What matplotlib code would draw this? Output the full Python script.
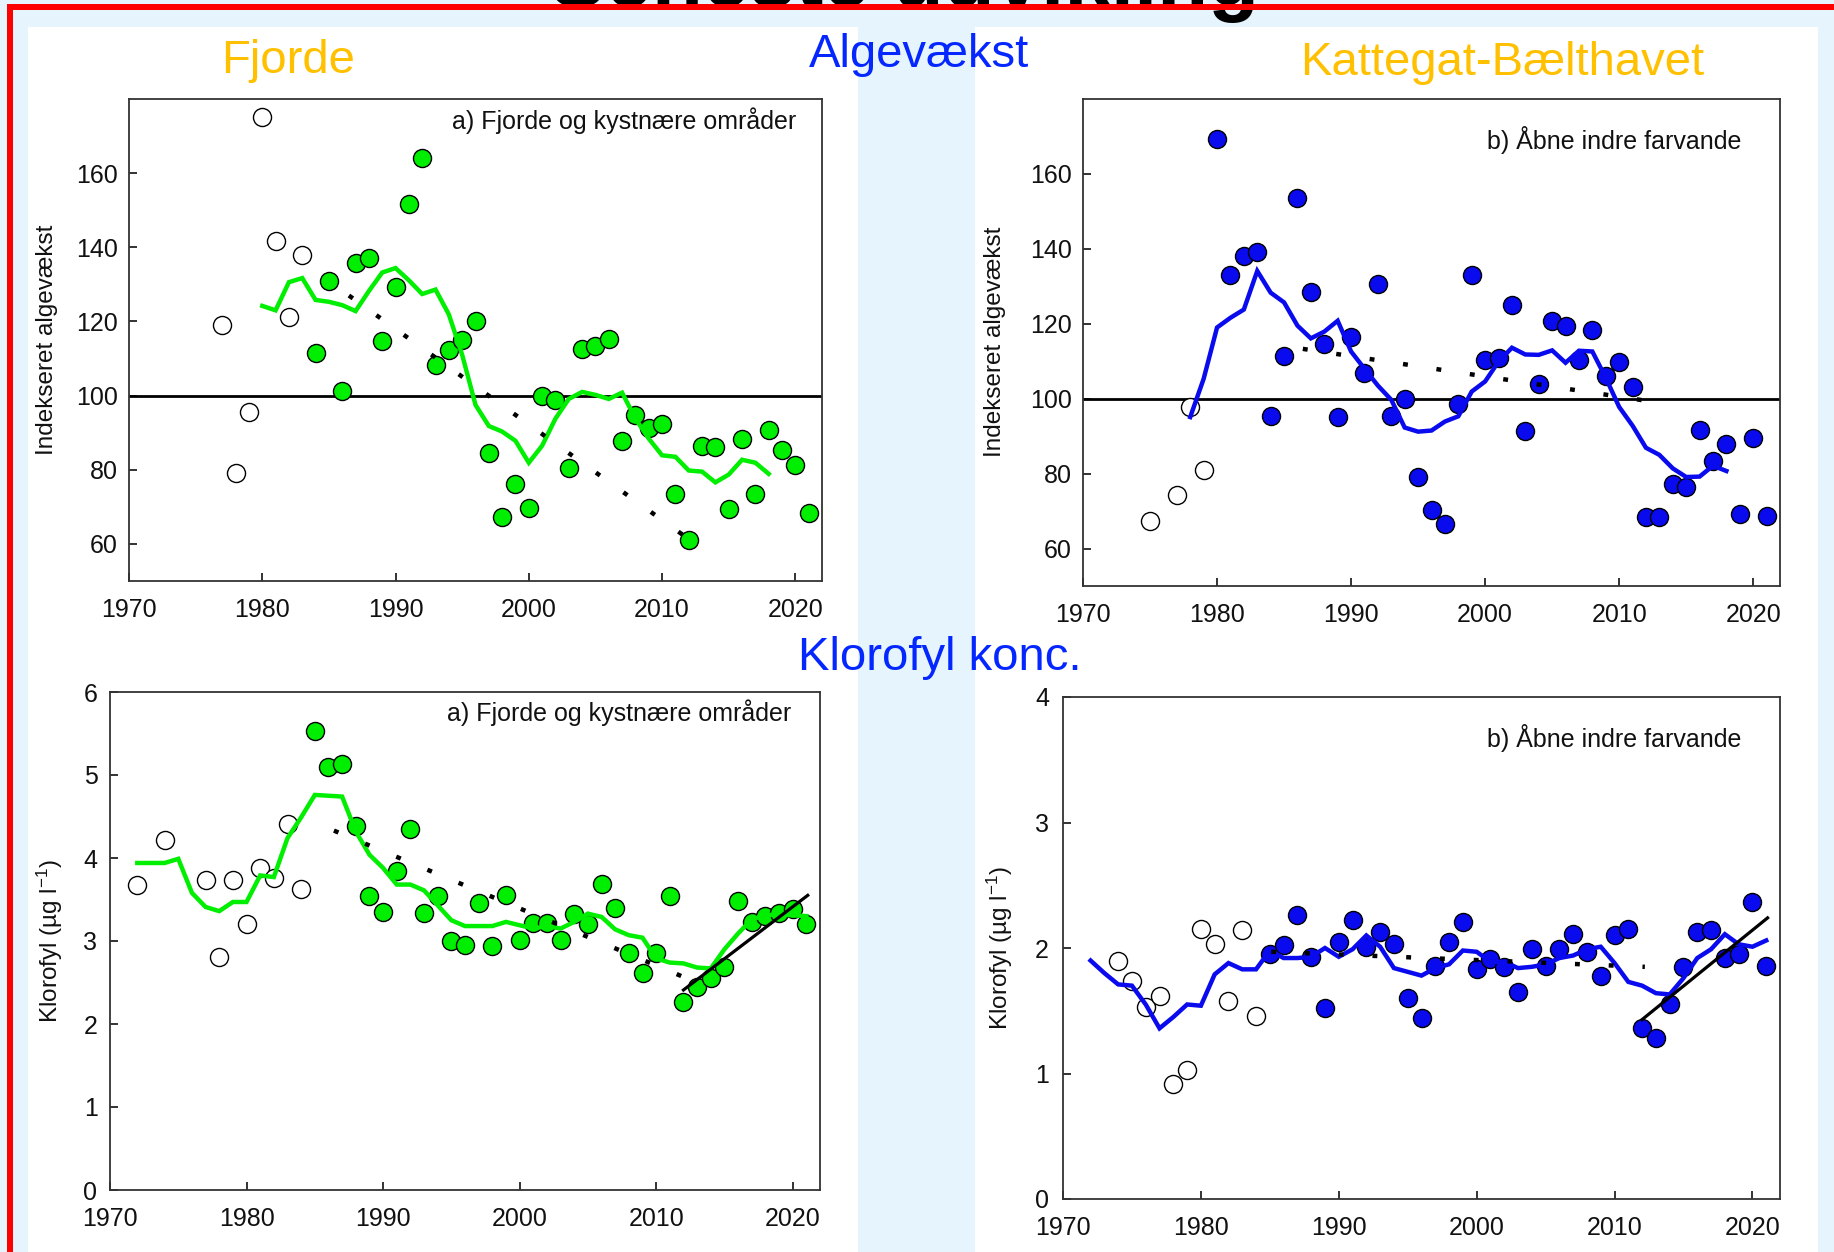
import matplotlib
matplotlib.use('Agg')
import matplotlib.pyplot as plt
from matplotlib.patches import Rectangle

plt.rcParams['font.family'] = ['Liberation Sans', 'DejaVu Sans']
plt.rcParams['mathtext.default'] = 'regular'

# ---------------- data ----------------
# Algevækst, Fjorde (a)
alg_fj_open_years = [1977, 1978, 1979, 1980, 1981, 1982, 1983]
alg_fj_open_vals = [119.0, 79.0, 95.6, 175.2, 141.8, 121.2, 137.8]
alg_fj_years = list(range(1984, 2022))
alg_fj_vals = [111.6, 130.8, 101.2, 135.9, 137.0, 114.6,
               129.4, 151.6, 164.1, 108.2, 112.3, 114.9, 120.0, 84.5, 67.3, 76.1,
               69.6, 100.0, 98.8, 80.6, 112.7, 113.4, 115.2, 87.8, 94.8, 91.3,
               92.3, 73.5, 61.0, 86.5, 86.1, 69.4, 88.2, 73.4, 90.6, 85.4, 81.2, 68.3]
alg_fj_avg_years = list(range(1980, 2019))
alg_fj_avg = [124.2, 123.0, 130.6, 131.7, 125.8, 125.3, 124.4, 122.8, 128.2, 133.2,
              134.4, 131.1, 127.4, 128.6, 121.9, 111.0, 97.5, 91.8, 90.3, 87.8,
              81.9, 86.5, 93.8, 99.1, 101.0, 100.2, 99.1, 100.8, 93.8, 88.4,
              83.9, 83.5, 79.8, 79.5, 76.6, 78.7, 82.7, 81.9, 78.9]
alg_fj_trend_years = [1986.5, 2012.0]
alg_fj_trend_vals = [127.0, 61.3]

# Algevækst, Kattegat-Bælthavet (b)
alg_kb_open_years = [1975, 1977, 1978, 1979]
alg_kb_open_vals = [67.3, 74.2, 97.7, 81.0]
alg_kb_years = list(range(1980, 2022))
alg_kb_vals = [169.2, 133.1, 138.1, 139.1, 95.3, 111.4, 153.6, 128.5, 114.7, 95.0,
               116.5, 106.8, 130.6, 95.5, 99.9, 79.0, 70.3, 66.6, 98.7, 133.1,
               110.3, 110.9, 125.1, 91.4, 103.8, 120.8, 119.5, 110.4, 118.3, 106.0,
               109.9, 103.1, 68.4, 68.4, 77.3, 76.5, 91.7, 83.4, 88.0, 69.1, 89.5, 68.8]
alg_kb_avg_years = list(range(1978, 2019))
alg_kb_avg = [95.1, 105.3,
              119.0, 121.6, 123.8, 134.1, 128.3, 125.7, 119.5, 116.1, 117.9, 120.8,
              112.6, 108.0, 103.5, 99.7, 92.3, 91.2, 91.5, 93.9, 95.3, 101.9,
              104.6, 109.9, 113.6, 111.8, 111.7, 112.9, 109.6, 112.8, 112.6, 105.6,
              97.8, 92.8, 86.9, 85.0, 81.4, 79.1, 79.2, 82.1, 80.7]
alg_kb_trend_years = [1986.4, 2012.1]
alg_kb_trend_vals = [113.3, 99.4]

# Klorofyl, Fjorde (a)
chl_fj_open_years = [1972, 1974, 1977, 1978, 1979, 1980, 1981, 1982, 1983, 1984]
chl_fj_open_vals = [3.68, 4.22, 3.73, 2.81, 3.73, 3.20, 3.88, 3.76, 4.41, 3.63]
chl_fj_years = list(range(1985, 2022))
chl_fj_vals = [5.53, 5.10, 5.13, 4.39, 3.54,
               3.35, 3.84, 4.35, 3.34, 3.54, 3.00, 2.95, 3.46, 2.94, 3.55,
               3.01, 3.22, 3.22, 3.01, 3.32, 3.20, 3.69, 3.40, 2.86, 2.62,
               2.86, 3.54, 2.27, 2.45, 2.55, 2.69, 3.48, 3.23, 3.30, 3.34, 3.38, 3.20]
chl_fj_avg_years = list(range(1972, 2022))
chl_fj_avg = [3.94, 3.94, 3.94, 3.99, 3.58, 3.41, 3.36, 3.47,
              3.47, 3.79, 3.77, 4.24, 4.49, 4.76, 4.75, 4.74, 4.32, 4.04,
              3.88, 3.68, 3.68, 3.61, 3.43, 3.25, 3.18, 3.18, 3.18, 3.23,
              3.19, 3.15, 3.18, 3.15, 3.23, 3.33, 3.29, 3.14, 3.07, 3.04,
              2.79, 2.74, 2.73, 2.68, 2.67, 2.90, 3.09, 3.26, 3.31, 3.32, 3.31, 3.30]
chl_fj_trend1_years = [1986.4, 2012.1]
chl_fj_trend1_vals = [4.33, 2.56]
chl_fj_trend2_years = [2012.0, 2021.1]
chl_fj_trend2_vals = [2.41, 3.55]

# Klorofyl, Kattegat-Bælthavet (b)
chl_kb_open_years = list(range(1974, 1985))
chl_kb_open_vals = [1.90, 1.74, 1.53, 1.62, 0.92, 1.03, 2.15, 2.03, 1.58, 2.14, 1.46]
chl_kb_years = list(range(1985, 2022))
chl_kb_vals = [1.95, 2.02, 2.26, 1.93, 1.52,
               2.05, 2.22, 2.01, 2.13, 2.03, 1.60, 1.44, 1.86, 2.05, 2.21,
               1.83, 1.91, 1.85, 1.65, 1.99, 1.86, 1.99, 2.11, 1.97, 1.78,
               2.10, 2.15, 1.36, 1.28, 1.55, 1.85, 2.13, 2.14, 1.92, 1.95, 2.37, 1.86]
chl_kb_avg_years = list(range(1972, 2022))
chl_kb_avg = [1.90, 1.80, 1.71, 1.70, 1.55, 1.36, 1.45, 1.55,
              1.54, 1.79, 1.88, 1.83, 1.83, 1.98, 1.92, 1.92, 1.93, 2.00,
              1.93, 1.99, 2.10, 2.01, 1.84, 1.81, 1.78, 1.84, 1.87, 1.98,
              1.97, 1.89, 1.89, 1.84, 1.85, 1.87, 1.92, 1.94, 1.99, 2.01,
              1.88, 1.73, 1.70, 1.64, 1.63, 1.76, 1.92, 1.99, 2.11, 2.03, 2.01, 2.06]
chl_kb_trend1_years = [1985.1, 2012.2]
chl_kb_trend1_vals = [1.97, 1.85]
chl_kb_trend2_years = [2012.0, 2021.1]
chl_kb_trend2_vals = [1.43, 2.24]

alg_yticks = [60, 80, 100, 120, 140, 160]
x_ticks = [1970, 1980, 1990, 2000, 2010, 2020]

# ---------------- figure ----------------
W, H = 1834, 1252
fig = plt.figure(figsize=(W / 100, H / 100), dpi=100)
BG = '#E6F4FD'
fig.patch.set_facecolor(BG)

GREEN = '#00EE00'
BLUE = '#0A0AEE'
ORANGE = '#FFC000'
TBLUE = '#0426FF'


def rect(x0, y0, x1, y1, color, z):
    fig.patches.append(Rectangle((x0 / W, 1 - y1 / H), (x1 - x0) / W, (y1 - y0) / H,
                                 transform=fig.transFigure, facecolor=color,
                                 edgecolor='none', zorder=z))


def add_ax(l, t, r, b):
    return fig.add_axes([l / W, 1 - b / H, (r - l) / W, (b - t) / H])


def ftext(x, y, s, **kw):
    return fig.text(x / W, 1 - y / H, s, **kw)


# white panels
rect(28, 27, 858, H, 'white', -5)
rect(975, 27, 1818, H, 'white', -5)
# title (clipped at the top edge, as in the original slide)
ftext(905, 6, 'Seneste udvikling', fontsize=60, fontweight='bold', color='black',
      ha='center', va='baseline', zorder=4)
# red frame
rect(7, 4, W, 10, '#FF0000', 10)
rect(7, 4, 13, H, '#FF0000', 10)


def style(ax, ylim, yticks, xpad, ypad):
    ax.set_xlim(1970, 2022)
    ax.set_ylim(*ylim)
    ax.set_xticks(x_ticks)
    ax.set_yticks(yticks)
    ax.tick_params(axis='both', direction='in', length=6, width=1.2,
                   labelsize=18, colors='#111111')
    ax.tick_params(axis='x', pad=xpad)
    ax.tick_params(axis='y', pad=ypad)
    for s in ax.spines.values():
        s.set_linewidth(1.3)
        s.set_color('#333333')


def draw(ax, oy, ov, fy, fv, ay, av, color, trends_dot, trends_solid, ms=13):
    ax.plot(oy, ov, 'o', ls='none', ms=ms, mfc='white', mec='black', mew=1.0, zorder=3)
    ax.plot(fy, fv, 'o', ls='none', ms=ms, mfc=color, mec='black', mew=1.0, zorder=3)
    ax.plot(ay, av, color=color, lw=3.2, zorder=4, solid_joinstyle='miter')
    for ty, tv in trends_dot:
        ax.plot(ty, tv, color='black', lw=3.2, ls=(0, (1.1, 6.5)),
                dash_capstyle='butt', zorder=5)
    for ty, tv in trends_solid:
        ax.plot(ty, tv, color='black', lw=2.3, zorder=5)


def annot(ax, x, y, s):
    ax.text(x, y, s, transform=ax.transAxes, ha='right', va='center', fontsize=18,
            color='#111111')


# a) Algevækst Fjorde
ax1 = add_ax(129, 99, 822, 581)
ax1.axhline(100, color='black', lw=2.0, zorder=2)
draw(ax1, alg_fj_open_years, alg_fj_open_vals, alg_fj_years, alg_fj_vals,
     alg_fj_avg_years, alg_fj_avg, GREEN,
     [(alg_fj_trend_years, alg_fj_trend_vals)], [])
style(ax1, (50, 180), alg_yticks, 12, 8)
annot(ax1, 0.963, 0.956, 'a) Fjorde og kystnære områder')

# b) Algevækst Kattegat-Bælthavet
ax2 = add_ax(1083, 99, 1780, 586)
ax2.axhline(100, color='black', lw=2.0, zorder=2)
draw(ax2, alg_kb_open_years, alg_kb_open_vals, alg_kb_years, alg_kb_vals,
     alg_kb_avg_years, alg_kb_avg, BLUE,
     [(alg_kb_trend_years, alg_kb_trend_vals)], [])
style(ax2, (50, 180), alg_yticks, 12, 8)
annot(ax2, 0.944, 0.916, 'b) Åbne indre farvande')

# a) Klorofyl Fjorde
ax3 = add_ax(110, 692, 820, 1190)
draw(ax3, chl_fj_open_years, chl_fj_open_vals, chl_fj_years, chl_fj_vals,
     chl_fj_avg_years, chl_fj_avg, GREEN,
     [(chl_fj_trend1_years, chl_fj_trend1_vals)],
     [(chl_fj_trend2_years, chl_fj_trend2_vals)])
style(ax3, (0, 6), [0, 1, 2, 3, 4, 5, 6], 12, 9)
annot(ax3, 0.959, 0.958, 'a) Fjorde og kystnære områder')

# b) Klorofyl Kattegat-Bælthavet
ax4 = add_ax(1063, 697, 1780, 1199)
draw(ax4, chl_kb_open_years, chl_kb_open_vals, chl_kb_years, chl_kb_vals,
     chl_kb_avg_years, chl_kb_avg, BLUE,
     [(chl_kb_trend1_years, chl_kb_trend1_vals)],
     [(chl_kb_trend2_years, chl_kb_trend2_vals)])
style(ax4, (0, 4), [0, 1, 2, 3, 4], 12, 10)
annot(ax4, 0.946, 0.918, 'b) Åbne indre farvande')

# axis labels
ftext(47, 340, 'Indekseret algevækst', rotation=90, ha='center', va='center',
      fontsize=17.5, color='#111111')
ftext(995, 342, 'Indekseret algevækst', rotation=90, ha='center', va='center',
      fontsize=17.5, color='#111111')
ftext(50, 941, 'Klorofyl (µg l$^{-1}$)', rotation=90, ha='center', va='center',
      fontsize=17.5, color='#111111')
ftext(1000, 948, 'Klorofyl (µg l$^{-1}$)', rotation=90, ha='center', va='center',
      fontsize=17.5, color='#111111')

# headings
ftext(288, 73, 'Fjorde', fontsize=34, color=ORANGE, ha='center', va='baseline')
ftext(919, 67, 'Algevækst', fontsize=34, color=TBLUE, ha='center', va='baseline')
ftext(1502, 75, 'Kattegat-Bælthavet', fontsize=34, color=ORANGE, ha='center',
      va='baseline')
ftext(940, 670, 'Klorofyl konc.', fontsize=34, color=TBLUE, ha='center', va='baseline')

fig.savefig('out.png', dpi=100, facecolor=BG)
